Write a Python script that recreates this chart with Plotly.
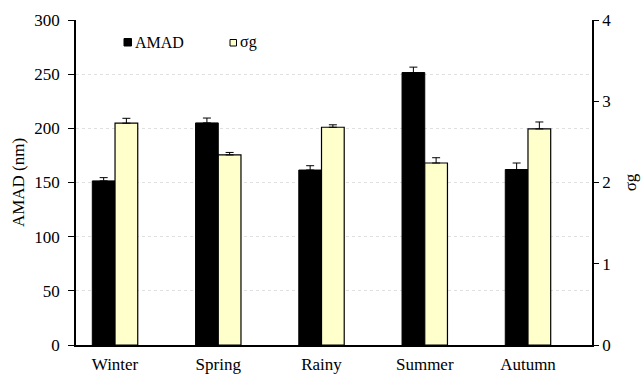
import plotly.graph_objects as go

seasons = ["Winter", "Spring", "Rainy", "Summer", "Autumn"]
amad = [151.5, 205, 161.5, 251.5, 162]
amad_err = [3, 4.5, 4, 5, 6]
sigma_g = [2.73, 2.34, 2.68, 2.24, 2.66]
sigma_g_err = [0.06, 0.03, 0.03, 0.065, 0.085]

FONT = "Times New Roman"
YELLOW = "#FFFFCC"

# plot-area geometry in pixels (for placing the hand-drawn legend)
L, R, T, B = 76, 592, 20, 345


def px_x(p):
    return (p - L) / (R - L)


def px_y(p):
    return (B - p) / (B - T)


fig = go.Figure()
fig.add_trace(go.Bar(
    x=seasons, y=amad, name="AMAD", offsetgroup="a",
    marker=dict(color="black", line=dict(color="black", width=1)),
    error_y=dict(type="data", array=amad_err, arrayminus=[0]*5, symmetric=False,
                 color="black", thickness=1, width=4),
    yaxis="y",
))
fig.add_trace(go.Bar(
    x=seasons, y=sigma_g, name="σg", offsetgroup="b",
    marker=dict(color=YELLOW, line=dict(color="black", width=1.2)),
    error_y=dict(type="data", array=sigma_g_err, arrayminus=[0]*5, symmetric=False,
                 color="black", thickness=1, width=4),
    yaxis="y2",
))

# legend: small square keys followed by labels
shapes = [
    dict(type="rect", xref="paper", yref="paper",
         x0=px_x(124), x1=px_x(131.5), y0=px_y(46), y1=px_y(38.5),
         fillcolor="black", line=dict(color="black", width=1)),
    dict(type="rect", xref="paper", yref="paper",
         x0=px_x(230), x1=px_x(236.5), y0=px_y(46), y1=px_y(39.5),
         fillcolor=YELLOW, line=dict(color="black", width=1)),
]
annotations = [
    dict(xref="paper", yref="paper", x=px_x(132.5), y=px_y(42.5), text="AMAD",
         showarrow=False, xanchor="left", yanchor="middle",
         font=dict(family=FONT, size=16, color="black")),
    dict(xref="paper", yref="paper", x=px_x(237.5), y=px_y(42.5), text="σg",
         showarrow=False, xanchor="left", yanchor="middle",
         font=dict(family=FONT, size=16, color="black")),
]

fig.update_layout(
    width=641, height=374,
    margin=dict(l=L, r=641 - R, t=T, b=374 - B),
    paper_bgcolor="white", plot_bgcolor="white",
    font=dict(family=FONT, size=17, color="black"),
    barmode="group", bargap=0.56, bargroupgap=0,
    showlegend=False,
    shapes=shapes, annotations=annotations,
    xaxis=dict(range=[-0.378, 4.62], showline=True, linecolor="black", linewidth=1.5,
               ticks="", ticklabelstandoff=3, showgrid=False, automargin=False,
               tickfont=dict(family=FONT, size=17, color="black")),
    yaxis=dict(range=[0, 300], dtick=50, showline=True, linecolor="black", linewidth=1.5,
               ticks="outside", ticklen=6, tickcolor="black", automargin=False,
               ticklabelstandoff=5,
               showgrid=True, gridcolor="#e0e0e0", griddash="dot", gridwidth=1,
               zeroline=False, tickfont=dict(family=FONT, size=17, color="black"),
               title=dict(text="AMAD (nm)", font=dict(family=FONT, size=17, color="black"),
                          standoff=5)),
    yaxis2=dict(range=[0, 4], dtick=1, overlaying="y", side="right",
                showline=True, linecolor="black", linewidth=1.5, automargin=False,
                ticks="outside", ticklen=5, tickcolor="black",
                showgrid=False, zeroline=False,
                tickfont=dict(family=FONT, size=17, color="black"),
                title=dict(text="σg", font=dict(family=FONT, size=17, color="black"),
                           standoff=14)),
)

fig.write_html("out.html")
